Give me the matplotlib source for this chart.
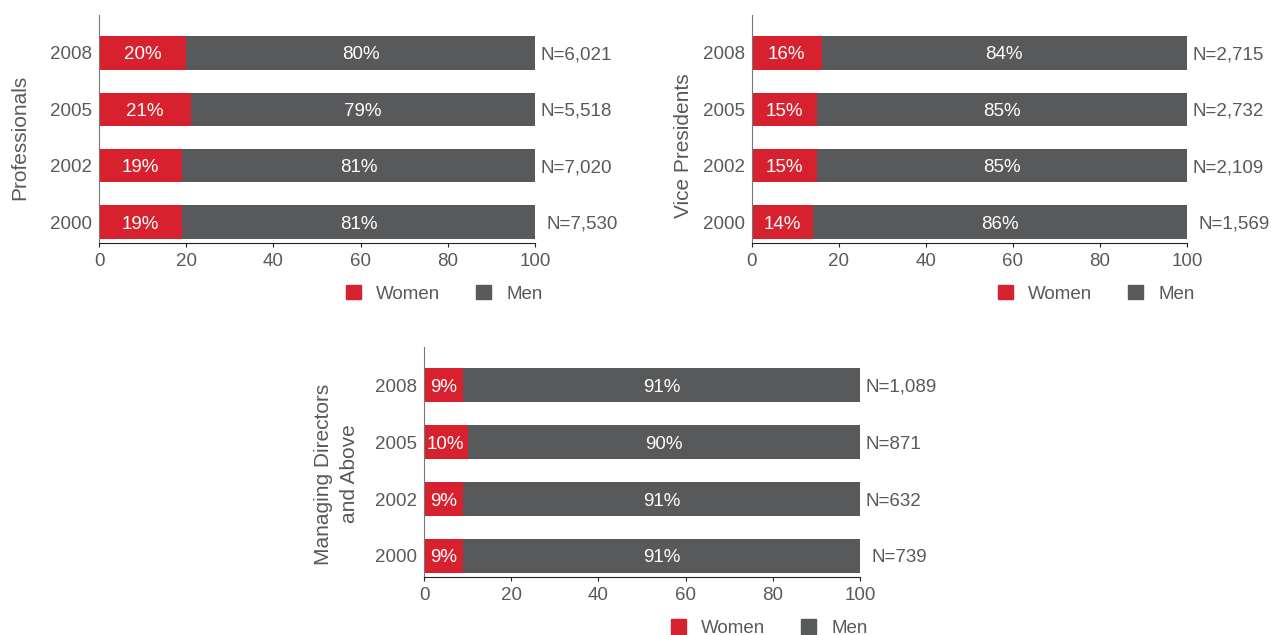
import matplotlib.pyplot as plt
from matplotlib.patches import Patch

plt.rcParams['font.family'] = ['Liberation Sans', 'DejaVu Sans']

years = ["2000", "2002", "2005", "2008"]

# women share per year (bottom to top)
prof_women = [19, 19, 21, 20]
prof_men = [81, 81, 79, 80]
prof_n = ["N=7,530", "N=7,020", "N=5,518", "N=6,021"]

vp_women = [14, 15, 15, 16]
vp_men = [86, 85, 85, 84]
vp_n = ["N=1,569", "N=2,109", "N=2,732", "N=2,715"]

md_women = [9, 9, 10, 9]
md_men = [91, 91, 90, 91]
md_n = ["N=739", "N=632", "N=871", "N=1,089"]

RED = "#d7212e"
GRAY = "#58595b"
TXT = "#58595b"
FS = 13.5

fig = plt.figure(figsize=(12.73, 6.35), dpi=100)


def panel(rect, women, men, ns, ylabel, label_xy):
    ax = fig.add_axes(rect)
    y = range(len(years))
    ax.barh(y, women, height=0.59, color=RED)
    ax.barh(y, men, left=women, height=0.59, color=GRAY)
    for i in y:
        ax.text(women[i] / 2, i, f"{women[i]}%", color="white",
                ha="center", va="center_baseline", fontsize=FS)
        ax.text(women[i] + men[i] / 2, i, f"{men[i]}%", color="white",
                ha="center", va="center_baseline", fontsize=FS)
        off = 8 if i == 0 else 4
        ax.annotate(ns[i], (women[i] + men[i], i), xytext=(off, 0),
                    textcoords="offset points", ha="left",
                    va="center_baseline", fontsize=FS, color=TXT)
    ax.set_xlim(0, 100)
    ax.set_ylim(-0.37, 3.67)
    ax.set_xticks([0, 20, 40, 60, 80, 100])
    ax.set_yticks(list(y))
    ax.set_yticklabels(years)
    ax.tick_params(axis="x", length=3, colors="#222222", labelcolor=TXT,
                   labelsize=FS, pad=4)
    ax.tick_params(axis="y", length=0, labelcolor=TXT, labelsize=FS, pad=5)
    for s in ["top", "right"]:
        ax.spines[s].set_visible(False)
    ax.spines["left"].set_color("#777777")
    ax.spines["bottom"].set_color("#222222")
    ax.set_ylabel(ylabel, fontsize=15, color=TXT, linespacing=1.5)
    ax.yaxis.set_label_coords(*label_xy)
    handles = [Patch(color=RED, label="Women"), Patch(color=GRAY, label="Men")]
    ax.legend(handles=handles, ncol=2, loc="upper right",
              bbox_to_anchor=(1.056, -0.11), frameon=False, fontsize=FS,
              handlelength=0.8, handleheight=0.8, columnspacing=1.9,
              handletextpad=0.8, labelcolor=TXT)
    return ax


panel([0.0778, 0.6173, 0.3425, 0.359], prof_women, prof_men, prof_n,
      "Professionals", (-0.161, 0.465))
panel([0.5907, 0.6173, 0.3417, 0.359], vp_women, vp_men, vp_n,
      "Vice Presidents", (-0.136, 0.425))
panel([0.3331, 0.0913, 0.3425, 0.3622], md_women, md_men, md_n,
      "Managing Directors\nand Above", (-0.149, 0.448))

fig.savefig("out.png", dpi=100)
